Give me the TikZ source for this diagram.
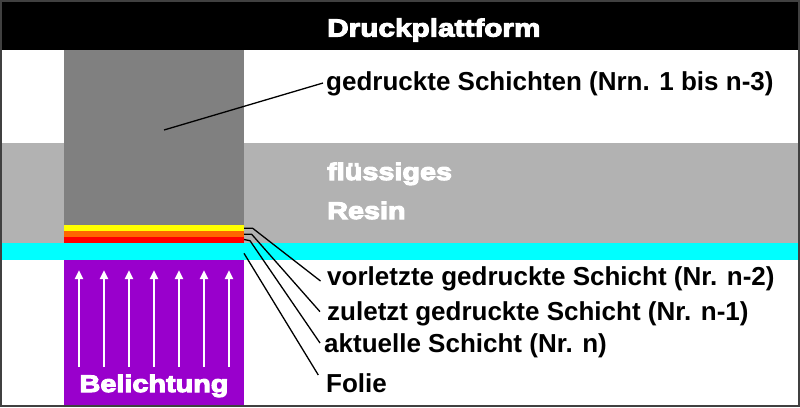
\documentclass[tikz,border=0pt]{standalone}
\usepackage{fontspec}
\setmainfont{Liberation Sans}
\newfontfamily\heavyfont{Liberation Sans Bold}[FakeStretch=1.2]
\newcommand\strokedtext[1]{\special{pdf:literal direct 1 1 1 RG 1.1 w 2 Tr}#1\special{pdf:literal direct 0 Tr}}
\usetikzlibrary{arrows.meta}
\definecolor{columngray}{HTML}{808080}
\definecolor{resingray}{HTML}{B2B2B2}
\definecolor{foilcyan}{HTML}{00FFFF}
\definecolor{layeryellow}{HTML}{FFFF00}
\definecolor{layerorange}{HTML}{FF6600}
\definecolor{layerred}{HTML}{FF0000}
\definecolor{lightpurple}{HTML}{9900CC}
\definecolor{framegray}{HTML}{404040}
\begin{document}
\begin{tikzpicture}[x=1pt,y=-1pt,
  label/.style={anchor=base west,inner sep=0pt,font=\bfseries\fontsize{26}{30}\selectfont,text=black},
  heavy/.style={anchor=base west,inner sep=0pt,font=\heavyfont\fontsize{24}{28}\selectfont,text=white},
  leader/.style={draw=black,line width=1.3pt,line join=round},
  lightarrow/.style={draw=white,line width=2.6pt,-{Triangle[width=8pt,length=9pt]}}]
\useasboundingbox (0,0) rectangle (800,407);
\fill[white] (0,0) rectangle (800,407);
% resin and foil bands
\fill[resingray] (0,143) rectangle (800,243);
\fill[foilcyan] (0,243) rectangle (800,260);
% platform
\fill[black] (0,0) rectangle (800,50);
% printed part
\fill[columngray] (64,50) rectangle (244,225);
\fill[layeryellow] (64,225) rectangle (244,231);
\fill[layerorange] (64,231) rectangle (244,237);
\fill[layerred] (64,237) rectangle (244,243);
% exposure
\fill[lightpurple] (64,260) rectangle (244,405);
\foreach \x in {79,104,129,154,179,204,229}
  \draw[lightarrow] (\x,367) -- (\x,270);
% frame
\draw[framegray,line width=2pt] (1,1) rectangle (799,406);
% texts
\node[heavy,font=\heavyfont\fontsize{24.8}{28}\selectfont] (platform) at (327,36.5) {\strokedtext{Druckplattform}};
\node[heavy] (resin1) at (327,180) {\strokedtext{flüssiges}};
\node[heavy] (resin2) at (327,219) {\strokedtext{Resin}};
\node[heavy,anchor=base] (expo) at (154,392) {\strokedtext{Belichtung}};
\node[label] (lprinted) at (326,90.5) {gedruckte Schichten (Nrn. 1 bis n-3)};
\node[label] (lprev) at (327,285) {vorletzte gedruckte Schicht (Nr. n-2)};
\node[label] (llast) at (327,320) {zuletzt gedruckte Schicht (Nr. n-1)};
\node[label] (lcur) at (324,352) {aktuelle Schicht (Nr. n)};
\node[label] (lfoil) at (326,392) {Folie};
% leader lines
\coordinate (sprinted) at (164,130);
\coordinate (eprinted) at (323,83);
\draw[leader] (sprinted) -- (eprinted);
\coordinate (sprev) at (244,228.3);
\coordinate (kprev) at (252.7,228.3);
\coordinate (eprev) at (320.5,281);
\draw[leader] (sprev) -- (kprev) -- (eprev);
\coordinate (slast) at (244,234.3);
\coordinate (klast) at (251.7,234.3);
\coordinate (elast) at (320,311.7);
\draw[leader] (slast) -- (klast) -- (elast);
\coordinate (scur) at (244,239.5);
\coordinate (kcur) at (250,240.7);
\coordinate (ecur) at (320,343);
\draw[leader] (scur) -- (kcur) -- (ecur);
\coordinate (sfoil) at (244,253.3);
\coordinate (efoil) at (318.3,375);
\draw[leader] (sfoil) -- (efoil);
\end{tikzpicture}
\end{document}
